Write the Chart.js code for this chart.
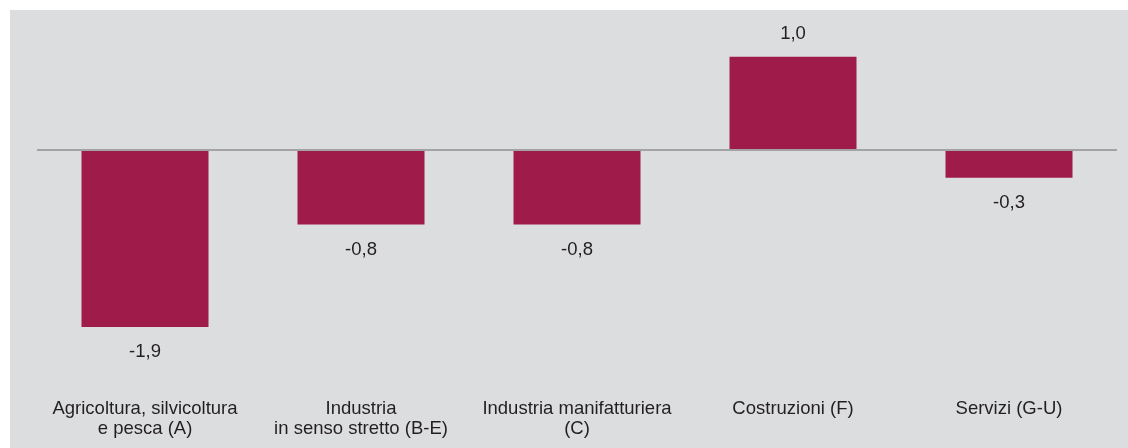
<!DOCTYPE html>
<html>
<head>
<meta charset="utf-8">
<script src="https://cdn.jsdelivr.net/npm/chart.js@4/dist/chart.umd.min.js"></script>
<style>
  html, body { margin: 0; padding: 0; background: #ffffff; }
  #box {
    position: absolute; left: 10px; top: 10px;
    width: 1118px; height: 438px;
    background: #dcdddf;
  }
</style>
</head>
<body>
<div id="box"><canvas id="grafico"></canvas></div>
<script>
// dati del grafico
const categorie = [
  ['Agricoltura, silvicoltura', 'e pesca (A)'],
  ['Industria', 'in senso stretto (B-E)'],
  ['Industria manifatturiera', '(C)'],
  'Costruzioni (F)',
  'Servizi (G-U)'
];
const valori = [-1.9, -0.8, -0.8, 1.0, -0.3];

const FONT = "'Liberation Sans', Arial, sans-serif";
const TESTO = '#231f20';

// etichette dei valori sopra/sotto le barre
const etichette = {
  id: 'etichette',
  afterDatasetsDraw(chart) {
    const ctx = chart.ctx;
    const meta = chart.getDatasetMeta(0);
    ctx.save();
    ctx.font = '18.5px ' + FONT;
    ctx.fillStyle = TESTO;
    ctx.textAlign = 'center';
    ctx.textBaseline = 'middle';
    meta.data.forEach((bar, i) => {
      const v = valori[i];
      const txt = v.toFixed(1).replace('.', ',');
      const y = v >= 0 ? bar.y - 23 : bar.y + 25;
      ctx.fillText(txt, bar.x, y);
    });
    ctx.restore();
  }
};

const ctx = document.getElementById('grafico').getContext('2d');
new Chart(ctx, {
  type: 'bar',
  data: {
    labels: categorie,
    datasets: [{
      data: valori,
      backgroundColor: '#9f1b4a',
      borderWidth: 0,
      barPercentage: 0.588,
      categoryPercentage: 1
    }]
  },
  options: {
    responsive: true,
    maintainAspectRatio: false,
    animation: false,
    layout: { padding: { left: 27, right: 11, top: 0, bottom: 0 } },
    plugins: {
      legend: { display: false },
      tooltip: { enabled: false }
    },
    scales: {
      x: {
        grid: { display: false },
        border: { display: false },
        ticks: {
          color: TESTO,
          font: { family: FONT, size: 18.5, lineHeight: 1.08 },
          padding: 8,
          maxRotation: 0,
          autoSkip: false
        },
        afterFit(scale) { scale.height = 65; }
      },
      y: {
        min: -2.5,
        max: 1.5,
        ticks: { display: false, stepSize: 0.5 },
        border: { display: false },
        grid: {
          drawTicks: false,
          lineWidth: 2,
          color: c => (c.tick && c.tick.value === 0) ? '#a3a3a3' : 'rgba(0,0,0,0)'
        }
      }
    }
  },
  plugins: [etichette]
});
</script>
</body>
</html>
